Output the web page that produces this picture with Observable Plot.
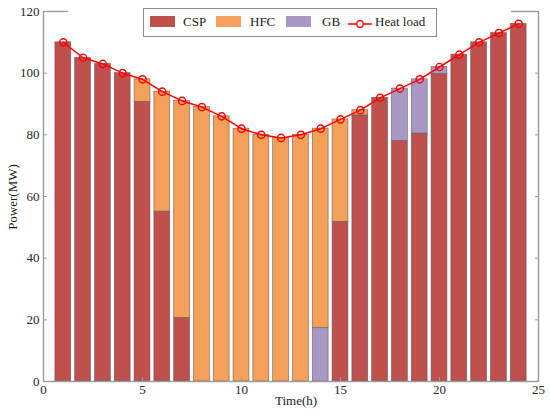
<!DOCTYPE html>
<html>
<head>
<meta charset="utf-8">
<script src="https://cdn.jsdelivr.net/npm/d3@7"></script>
<script src="https://cdn.jsdelivr.net/npm/@observablehq/plot@0.6"></script>
<style>
  body { margin: 0; background: #fff; }
  #wrap { position: relative; width: 550px; height: 415px; font-family: "Liberation Serif", "Times New Roman", serif; }
  #wrap svg { position: absolute; left: 0; top: 0; }
  .lbl { position: absolute; font-size: 13px; color: #1a1a1a; white-space: nowrap; }
  #gap { position: absolute; left: 68px; top: 8px; width: 443px; height: 5px; background: #fff; }
  #legend { position: absolute; left: 143px; top: 8px; width: 292px; height: 27px; border: 1px solid #8a8a8a; background: #fff; }
  .sw { position: absolute; top: 7px; width: 25px; height: 11px; }
  .lt { position: absolute; top: 5px; font-size: 13px; color: #1a1a1a; line-height: 16px; }
</style>
</head>
<body>
<div id="wrap"></div>
<script>
const hours = [1,2,3,4,5,6,7,8,9,10,11,12,13,14,15,16,17,18,19,20,21,22,23,24];
const heatLoad = [110,105,103,100,98,94,91,89,86,82,80,79,80,82,85,88,92,95,98,102,106,110,113,116];
const csp = [110,105,103,100,90.7,55.1,20.6,0,0,0,0,0,0,0,51.8,86.3,92,78,80.4,99.7,106,110,113,116];
const gb  = [0,0,0,0,0,0,0,0,0,0,0,0,0,17.3,0,0,0,17,17.6,2.3,0,0,0,0];
const hfc = [0,0,0,0,7.3,38.9,70.4,89,86,82,80,79,80,64.7,33.2,1.7,0,0,0,0,0,0,0,0];
const xTicks = [0,5,10,15,20,25];
const yTicks = [0,20,40,60,80,100,120];
const sources = ["CSP","HFC","GB"];
const colors = {CSP: "#c0504d", HFC: "#f5a05a", GB: "#a898c3"};

// stacked table: CSP at bottom, then GB, then HFC
const stackOrder = [["CSP", csp], ["GB", gb], ["HFC", hfc]];
const bars = [];
hours.forEach((t, i) => {
  let base = 0;
  for (const [name, arr] of stackOrder) {
    const v = arr[i];
    if (v > 0) bars.push({t, src: name, y1: base, y2: base + v});
    base += v;
  }
});
const loadData = hours.map((t, i) => ({t, v: heatLoad[i]}));
const halfW = 0.4;

const axisStyle = {stroke: "#262626", fontSize: 13, fontFamily: "Liberation Serif"};

const chart = Plot.plot({
  width: 550,
  height: 415,
  marginLeft: 43,
  marginRight: 12,
  marginTop: 11,
  marginBottom: 34,
  style: {fontFamily: "Liberation Serif", fontSize: "13px", color: "#262626", background: "transparent"},
  x: {domain: [0, 25]},
  y: {domain: [0, 120]},
  marks: [
    Plot.rect(bars, {
      x1: d => d.t - halfW, x2: d => d.t + halfW, y1: "y1", y2: "y2",
      fill: d => colors[d.src], stroke: "#5a5a5a", strokeWidth: 0.7, strokeOpacity: 0.8
    }),
    Plot.line(loadData, {x: "t", y: "v", stroke: "#ff0000", strokeWidth: 1.5}),
    Plot.dot(loadData, {x: "t", y: "v", r: 3.6, stroke: "#ff0000", strokeWidth: 1.4, fill: "none"}),
    Plot.frame({stroke: "#9a9a9a", strokeWidth: 1.4}),
    Plot.axisY({ticks: yTicks, anchor: "left", tickSize: -4, text: null, stroke: "#9a9a9a", label: null}),
    Plot.axisY({ticks: yTicks, anchor: "right", tickSize: -4, text: null, stroke: "#9a9a9a", label: null}),
    Plot.axisY({ticks: yTicks, anchor: "left", tickSize: 0, tickPadding: 4, label: null, fontSize: 13, fill: "#262626"}),
    Plot.axisX({ticks: xTicks, anchor: "bottom", tickSize: -4, text: null, stroke: "#9a9a9a", label: null}),
    Plot.axisX({ticks: xTicks, anchor: "bottom", tickSize: 0, tickPadding: 3, label: null, fontSize: 13, fill: "#262626"})
  ]
});

const wrap = document.getElementById("wrap");
wrap.appendChild(chart);

// gap in the top border (as in the reference)
const gap = document.createElement("div");
gap.id = "gap";
wrap.appendChild(gap);

// axis labels
const xl = document.createElement("div");
xl.className = "lbl";
xl.textContent = "Time(h)";
xl.style.left = "275px"; xl.style.top = "393px";
wrap.appendChild(xl);

const yl = document.createElement("div");
yl.className = "lbl";
yl.textContent = "Power(MW)";
yl.style.left = "13px"; yl.style.top = "197px";
yl.style.transform = "translate(-50%,-50%) rotate(-90deg)";
wrap.appendChild(yl);

// legend
const lg = document.createElement("div");
lg.id = "legend";
const items = [
  {name: "CSP", sw: 6, tx: 39},
  {name: "HFC", sw: 72, tx: 106},
  {name: "GB", sw: 142, tx: 178}
];
for (const it of items) {
  const s = document.createElement("div");
  s.className = "sw";
  s.style.left = it.sw + "px";
  s.style.background = colors[it.name];
  lg.appendChild(s);
  const t = document.createElement("div");
  t.className = "lt";
  t.style.left = it.tx + "px";
  t.textContent = it.name;
  lg.appendChild(t);
}
const svgNS = "http://www.w3.org/2000/svg";
const ls = document.createElementNS(svgNS, "svg");
ls.setAttribute("width", "24"); ls.setAttribute("height", "14");
ls.style.position = "absolute"; ls.style.left = "204px"; ls.style.top = "8px";
const ln = document.createElementNS(svgNS, "line");
ln.setAttribute("x1", "0"); ln.setAttribute("x2", "24"); ln.setAttribute("y1", "7"); ln.setAttribute("y2", "7");
ln.setAttribute("stroke", "#ff0000"); ln.setAttribute("stroke-width", "1.5");
ls.appendChild(ln);
const cc = document.createElementNS(svgNS, "circle");
cc.setAttribute("cx", "12"); cc.setAttribute("cy", "7"); cc.setAttribute("r", "3.3");
cc.setAttribute("fill", "#fff"); cc.setAttribute("stroke", "#ff0000"); cc.setAttribute("stroke-width", "1.3");
ls.appendChild(cc);
lg.appendChild(ls);
const ht = document.createElement("div");
ht.className = "lt";
ht.style.left = "231px";
ht.textContent = "Heat load";
lg.appendChild(ht);
wrap.appendChild(lg);
</script>
</body>
</html>
